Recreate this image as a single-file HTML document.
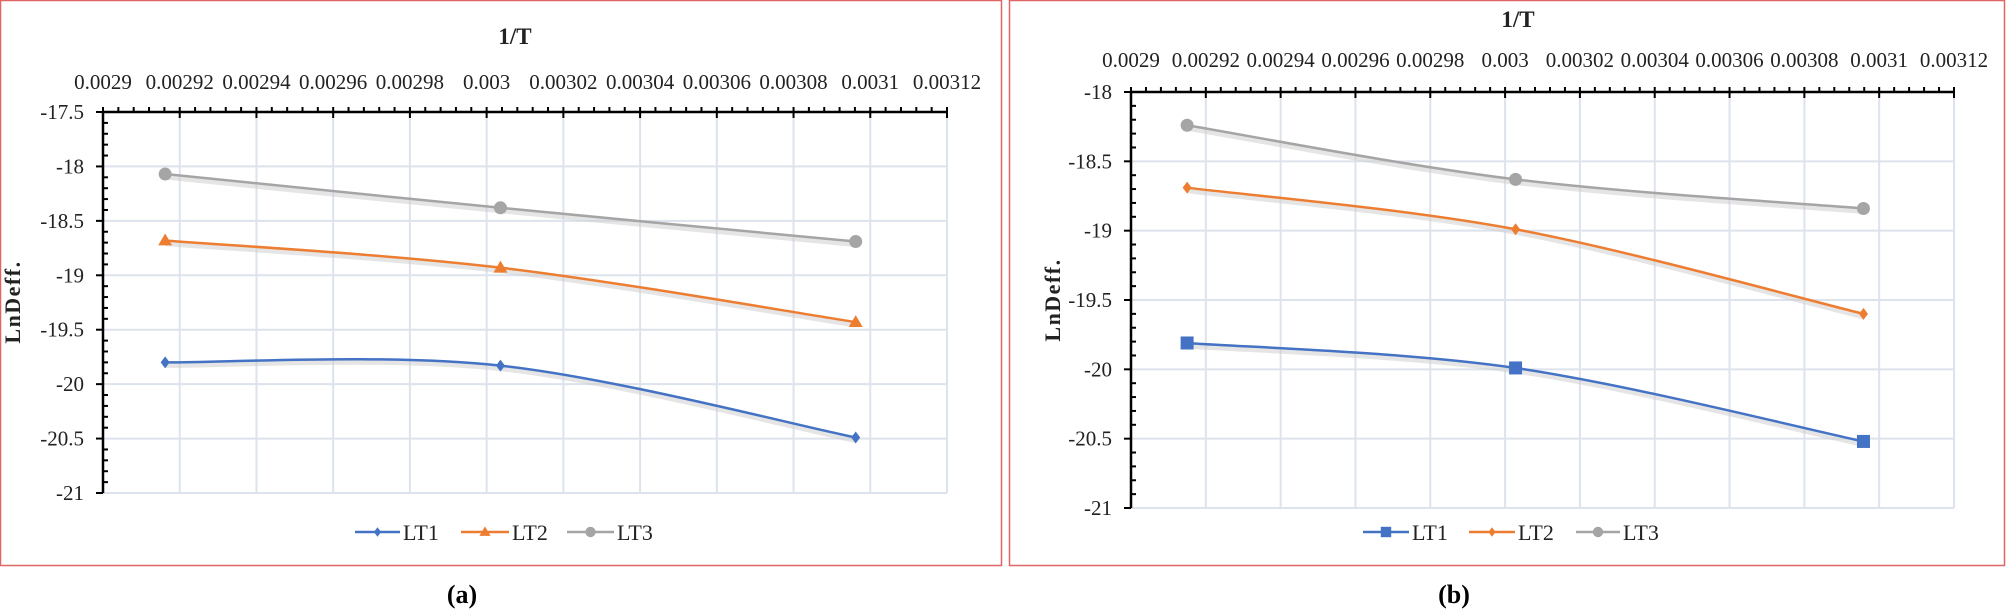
<!DOCTYPE html>
<html><head><meta charset="utf-8"><style>
html,body{margin:0;padding:0;background:#fff;}
svg{display:block;font-family:"Liberation Serif",serif;}
</style></head><body>
<svg id="s" width="2007" height="612" xmlns="http://www.w3.org/2000/svg"></svg>
<script>
const S=document.getElementById('s');let h='';
h+='<rect x="0.5" y="0.5" width="1001" height="565" fill="none" stroke="#e06666" stroke-width="1.5"/>';
h+='<rect x="1009.5" y="0.5" width="995" height="565" fill="none" stroke="#e06666" stroke-width="1.5"/>';
function chart(c){
 const {L,R,T,B,ymax,ymin,yn,xlabY,titleY,titleX,lnX,lnY}=c;
 const X=v=>L+(v-0.0029)/0.00022*(R-L), Y=v=>T+(ymax-v)/(ymax-ymin)*(B-T);
 for(let i=0;i<=11;i++){const x=L+i*(R-L)/11;
  h+=`<line x1="${x}" y1="${T}" x2="${x}" y2="${B}" stroke="#dde3ec" stroke-width="2"/>`;
  const lab=(0.0029+i*0.00002).toFixed(5).replace(/0+$/,'');
  h+=`<text x="${x}" y="${xlabY}" font-size="21" text-anchor="middle" fill="#222">${lab}</text>`;
  h+=`<line x1="${x}" y1="${T-5}" x2="${x}" y2="${T+6}" stroke="#000" stroke-width="2"/>`;
  if(i<11)for(let k=1;k<5;k++){const xx=x+k*(R-L)/55;h+=`<line x1="${xx}" y1="${T-5}" x2="${xx}" y2="${T}" stroke="#000" stroke-width="2"/>`;}
 }
 for(let j=0;j<=yn;j++){const v=ymax-j*0.5,y=Y(v);
  h+=`<line x1="${L}" y1="${y}" x2="${R}" y2="${y}" stroke="#dde3ec" stroke-width="2"/>`;
  h+=`<line x1="${L-7}" y1="${y}" x2="${L}" y2="${y}" stroke="#000" stroke-width="2"/>`;
  h+=`<text x="${L-19}" y="${y+7}" font-size="21" text-anchor="end" fill="#222">${v}</text>`;
  if(j<yn)for(let k=1;k<5;k++){const yy=y+k*(B-T)/yn/5;h+=`<line x1="${L}" y1="${yy}" x2="${L+5}" y2="${yy}" stroke="#000" stroke-width="2"/>`;}
 }
 h+=`<line x1="${L}" y1="${T}" x2="${R}" y2="${T}" stroke="#000" stroke-width="2.5"/>`;
 h+=`<line x1="${L}" y1="${T}" x2="${L}" y2="${B}" stroke="#000" stroke-width="2.5"/>`;
 h+=`<text x="${titleX}" y="${titleY}" font-size="23" font-weight="bold" text-anchor="middle" fill="#222">1/T</text>`;
 h+=`<text transform="translate(${lnX},${lnY}) rotate(-90)" font-size="22" font-weight="bold" letter-spacing="1.5" text-anchor="middle" fill="#222">LnDeff.</text>`;
 const cols=['#4472c4','#ed7d31','#a5a5a5'];
 c.data.forEach((d,si)=>{
  const p=d.map((v,i)=>[X(c.xs[i]),Y(v)]);
  let path=`M${p[0][0]},${p[0][1]}`;
  for(let i=0;i<p.length-1;i++){const p0=p[i-1]||p[i],p1=p[i],p2=p[i+1],p3=p[i+2]||p[i+1];
   const c1=[p1[0]+(p2[0]-p0[0])/6,p1[1]+(p2[1]-p0[1])/6],c2=[p2[0]-(p3[0]-p1[0])/6,p2[1]-(p3[1]-p1[1])/6];
   path+=` C${c1} ${c2} ${p2}`;}
  h+=`<path d="${path}" fill="none" stroke="#ccc" stroke-width="5" opacity="0.5" transform="translate(0,3)"/>`;
  h+=`<path d="${path}" fill="none" stroke="${cols[si]}" stroke-width="2.5"/>`;
  p.forEach(q=>h+=marker(c.mk[si],q[0],q[1],cols[si]));
 });
 c.leg.forEach((g,si)=>{
  h+=`<line x1="${g[0]}" y1="532" x2="${g[1]}" y2="532" stroke="${cols[si]}" stroke-width="2.5"/>`;
  h+=marker(c.mk[si],(g[0]+g[1])/2,532,cols[si],0.8);
  h+=`<text x="${g[1]+3}" y="540" font-size="22" fill="#222">LT${si+1}</text>`;
 });
}
function marker(t,x,y,c,s=1){
 if(t=='d'){const r=6*s;return `<polygon points="${x},${y-r} ${x+r*0.75},${y} ${x},${y+r} ${x-r*0.75},${y}" fill="${c}"/>`;}
 if(t=='t'){const r=7*s;return `<polygon points="${x},${y-r} ${x+r},${y+r*0.7} ${x-r},${y+r*0.7}" fill="${c}"/>`;}
 if(t=='o')return `<circle cx="${x}" cy="${y}" r="${6.5*s}" fill="${c}"/>`;
 if(t=='s'){const r=6.5*s;return `<rect x="${x-r}" y="${y-r}" width="${2*r}" height="${2*r}" fill="${c}"/>`;}
}
chart({L:103,R:947,T:112,B:493,ymax:-17.5,ymin:-21,yn:7,xlabY:89,titleY:44,titleX:515,lnX:20,lnY:302,
 xs:[0.0029162,0.0030036,0.0030962],
 data:[[-19.8,-19.83,-20.49],[-18.68,-18.93,-19.43],[-18.07,-18.38,-18.69]],
 mk:['d','t','o'],leg:[[355,400],[461,509],[567,614]]});
chart({L:1131,R:1954,T:92,B:508,ymax:-18,ymin:-21,yn:6,xlabY:67,titleY:27,titleX:1518,lnX:1060,lnY:300,
 xs:[0.002915,0.0030028,0.0030958],
 data:[[-19.81,-19.99,-20.52],[-18.69,-18.99,-19.6],[-18.24,-18.63,-18.84]],
 mk:['s','d','o'],leg:[[1363,1409],[1469,1515],[1576,1620]]});
h+='<text x="462" y="603" font-size="26" font-weight="bold" text-anchor="middle" fill="#000">(a)</text>';
h+='<text x="1454" y="603" font-size="26" font-weight="bold" text-anchor="middle" fill="#000">(b)</text>';
S.innerHTML=h;
</script>
</body></html>
